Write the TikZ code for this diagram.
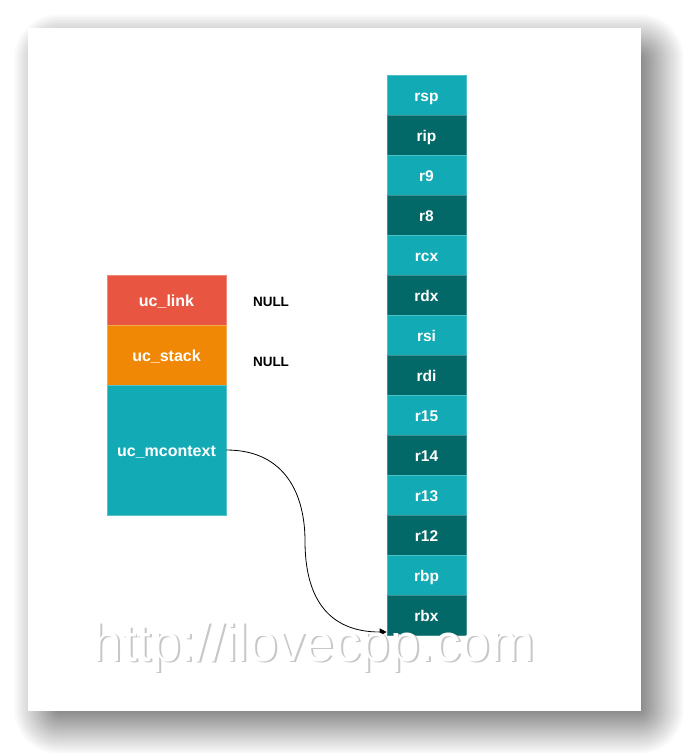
\documentclass[tikz,border=0pt]{standalone}
\usepackage{fontspec}
\setmainfont{Liberation Sans}
\usetikzlibrary{arrows.meta}
\definecolor{cred}{HTML}{E85642}
\definecolor{corange}{HTML}{F08705}
\definecolor{cteal}{HTML}{12AAB5}
\definecolor{cdark}{HTML}{036868}
\tikzset{
  blk/.style={minimum width=119pt, inner sep=0pt, text=white,
    font=\bfseries\fontsize{16}{19}\selectfont, line width=0.6pt,
    text height=13.4pt, text depth=0pt},
  cell/.style={minimum width=79pt, minimum height=40pt, inner sep=0pt, text=white,
    font=\bfseries\fontsize{15.5}{19}\selectfont, line width=0.6pt,
    text height=13.4pt, text depth=0pt},
  nulltxt/.style={inner sep=0pt, anchor=base, font=\bfseries\fontsize{13.5}{16}\selectfont},
  conn/.style={line width=0.8pt, -{Triangle[length=7pt,width=7pt]}},
  wm/.style={inner sep=0pt, anchor=base, font=\fontsize{53}{62}\selectfont}
}
\begin{document}
\begin{tikzpicture}[x=1pt,y=-1pt]
\useasboundingbox (0,0) rectangle (683,753);
% soft shadow, drawn as opaque layers of grey
\foreach \u in {30,28.5,...,-16}{
  \pgfmathsetmacro{\dk}{min(50,1.03*(30-\u))}
  \pgfmathsetmacro{\rr}{max(0.5,\u+17)}
  \fill[black!\dk!white,rounded corners=\rr pt]
    (42.5-\u,42.5-\u) rectangle (655.5+\u,725.5+\u);
}
% card
\fill[white] (28,28) rectangle (641,711);
% left structure
\node[blk, fill=cred, draw=cred!70!white, minimum height=50pt] (link) at (166.5,300) {uc\_link};
\node[blk, fill=corange, draw=corange!70!white, minimum height=60pt] (stack) at (166.5,355) {uc\_stack};
\node[blk, fill=cteal, draw=cteal!70!white, minimum height=130pt] (mctx) at (166.5,450) {uc\_mcontext};
\node[nulltxt] (null1) at (271,306) {NULL};
\node[nulltxt] (null2) at (271,366) {NULL};
% register column
\foreach \t/\c [count=\i from 0] in {rsp/cteal,rip/cdark,r9/cteal,r8/cdark,rcx/cteal,rdx/cdark,rsi/cteal,rdi/cdark,r15/cteal,r14/cdark,r13/cteal,r12/cdark,rbp/cteal,rbx/cdark}{
  \node[cell, fill=\c, draw=\c!75!white] (\t) at (426.5,95+40*\i) {\t};
}
% connector
\coordinate (mid) at (305,541);
\coordinate (end) at ([yshift=-17pt]rbx.west);
\draw[conn] (mctx.east) .. controls +(60,0) and +(0,-45) .. (mid)
  .. controls +(0,55) and +(-60,0) .. (end);
% watermark
\node[wm, text=black!22] (wmshadow) at (315.5,662.5) {http://ilovecpp.com};
\node[wm, text=white] (wmark) at (313.5,661) {http://ilovecpp.com};
\end{tikzpicture}
\end{document}
